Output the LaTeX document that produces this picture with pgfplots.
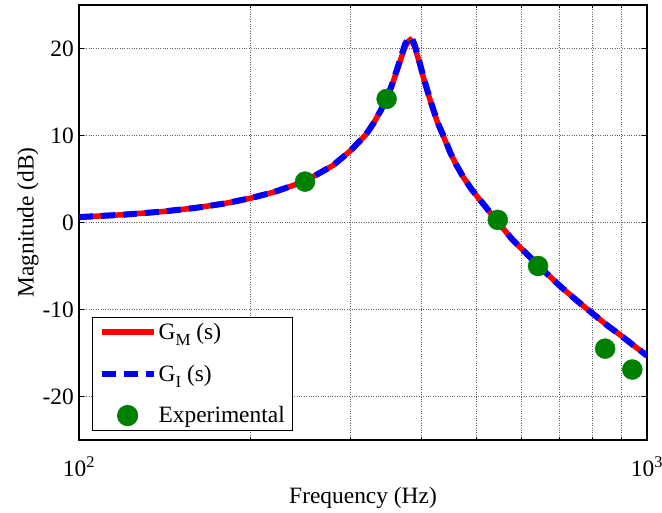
\documentclass[border=0pt]{standalone}
\usepackage{fontspec}
\setmainfont{Liberation Serif}
\usepackage{pgfplots}
\pgfplotsset{compat=1.18}
\definecolor{mgreen}{rgb}{0,0.5,0}
\newcommand{\sub}[1]{\raisebox{-6bp}{\fontsize{17}{17}\selectfont #1}}
\pgfplotsset{
  lineleg/.style={legend image code/.code={\draw[##1] (0bp,0bp) -- (52bp,0bp);}},
  markleg/.style={legend image code/.code={\draw[##1] plot coordinates {(26bp,0bp)};}},
}
\begin{document}
\begin{tikzpicture}[font=\fontsize{23.5}{28}\selectfont]
\begin{axis}[
  at={(0,0)}, anchor=south west,
  scale only axis, width=568bp, height=435bp,
  xmode=log, xmin=100, xmax=1000, ymin=-25, ymax=25,
  xtick={100,1000}, xticklabels={10\textsuperscript{2},10\textsuperscript{3}},
  minor xtick={200,300,400,500,600,700,800,900},
  ytick={-20,-10,0,10,20},
  /pgf/number format/assume math mode=true,
  grid=both,
  major grid style={dotted, black!60, line width=0.7bp},
  minor grid style={dotted, black!60, line width=0.7bp},
  tick align=inside, major tick length=5bp, minor tick length=3bp,
  tick style={black, line width=0.8bp},
  axis line style={line width=1.3bp},
  xticklabel style={anchor=base, yshift=-36bp},
  yticklabel style={inner sep=0pt, xshift=-5bp},
  xlabel={Frequency (Hz)},
  xlabel style={at={(axis description cs:0.5,0)}, anchor=base, yshift=-63bp},
  ylabel={Magnitude (dB)},
  ylabel style={at={(axis description cs:0,0.5)}, anchor=center, rotate=0, yshift=51bp},
  legend style={at={(axis description cs:0.0229,0.0207)}, anchor=south west,
    draw=black, line width=1.2bp, fill=white, inner xsep=6bp, inner ysep=4bp,
    row sep=20bp, font=\fontsize{23.5}{28}\selectfont},
  legend cell align=left,
]
\addplot[red, line width=5.5bp, lineleg] coordinates {
(100,0.62) (120,0.9) (140,1.25) (160,1.67) (180,2.17) (200,2.78) (220,3.48) (240,4.33)
(260,5.37) (280,6.56) (300,8.2) (320,10.1) (330,11.4) (340,12.9) (345,13.7) (350,14.6)
(355,15.6) (360,16.8) (365,17.9) (370,19.1) (375,20.2) (380,20.8) (383,21.0) (386,20.8)
(390,20.2) (395,19.0) (400,17.7) (405,16.4) (410,15.2) (420,13.0) (430,11.1) (440,9.6)
(450,8.1) (460,6.8) (475,5.2) (490,3.9) (505,2.8) (520,1.8) (540,0.4) (560,-0.8)
(580,-2.0) (600,-2.95) (650,-5.2) (700,-7.2) (750,-8.9) (800,-10.4) (850,-11.8)
(900,-13.0) (950,-14.2) (1000,-15.3)
};
\addlegendentry{G\sub{M} (s)}
\addplot[blue, line width=6bp, dash pattern=on 14bp off 8bp, lineleg] coordinates {
(100,0.62) (120,0.9) (140,1.25) (160,1.67) (180,2.17) (200,2.78) (220,3.48) (240,4.33)
(260,5.37) (280,6.56) (300,8.2) (320,10.1) (330,11.4) (340,12.9) (345,13.8) (350,14.7)
(355,15.7) (360,16.9) (365,18.1) (370,19.3) (375,20.5) (380,21.1) (383,21.3) (386,21.1)
(390,20.4) (395,19.2) (400,17.8) (405,16.5) (410,15.3) (420,13.1) (430,11.2) (440,9.7)
(450,8.1) (460,6.8) (475,5.2) (490,3.9) (505,2.8) (520,1.8) (540,0.4) (560,-0.8)
(580,-2.0) (600,-2.95) (650,-5.2) (700,-7.2) (750,-8.9) (800,-10.4) (850,-11.8)
(900,-13.0) (950,-14.2) (1000,-15.3)
};
\addlegendentry{G\sub{I} (s)}
\addplot[only marks, mark=*, mark size=10bp, mgreen, mark options={fill=mgreen, draw=mgreen}, markleg] coordinates {
(250,4.7) (348,14.2) (546,0.3) (643,-5.0) (844,-14.5) (942,-16.9)
};
\addlegendentry{Experimental}
\end{axis}
\pgfresetboundingbox
\path[use as bounding box] (-79bp,-73bp) rectangle (583bp,440bp);
\end{tikzpicture}
\end{document}
